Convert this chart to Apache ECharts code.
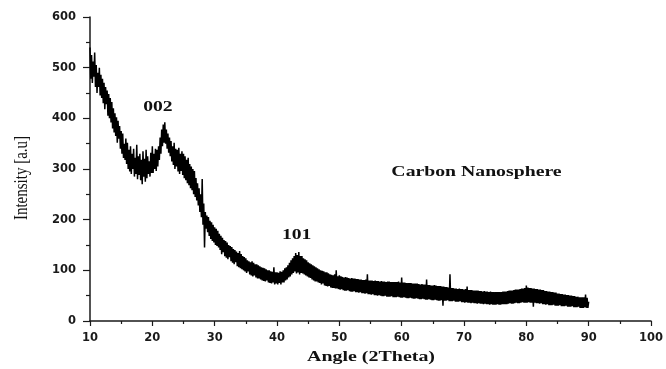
<!DOCTYPE html>
<html><head><meta charset="utf-8">
<script src="https://cdn.jsdelivr.net/npm/echarts@6/dist/echarts.min.js"></script>
<style>html,body{margin:0;padding:0;background:#fff}#c{width:666px;height:369px}</style>
</head><body><div id="c"></div>
<script>
// Sampling grid of the scan (degrees 2θ)
const angleStart = 10;
const angleStep = 0.125;
// Intensity readings (a.u.), 8 per degree
const intensity10to30 = [
 540,478,525,470,512,482,530,462, 505,450,490,462,500,445,486,440,
 478,430,470,418,462,428,455,405, 448,400,440,392,432,380,420,372,
 410,365,402,352,395,360,385,340, 375,330,370,322,350,318,360,310,
 352,300,338,295,345,290,330,300, 340,285,322,290,348,280,325,288,
 330,278,318,270,335,285,320,275, 338,282,325,290,315,285,332,292,
 345,292,330,300,340,296,338,305, 345,318,362,330,378,345,388,352,
 392,350,378,340,370,332,362,325, 355,315,345,308,352,300,340,305,
 338,295,342,290,330,296,335,288, 330,282,325,278,318,272,322,268,
 310,262,305,258,300,250,296,245, 282,238,272,228,262,215,250,205,
 280,190,232,145,215,182,208,175, 205,168,198,162,195,158,190,155
];
const intensity30to50 = [
 185,150,182,148,178,145,172,140, 168,132,164,136,160,128,158,125,
 155,122,150,126,148,118,146,115, 142,112,140,116,137,108,134,106,
 138,104,132,102,128,100,126,98, 124,95,120,98,118,92,116,90,
 118,88,115,90,112,86,112,84, 110,84,108,82,106,80,105,79,
 104,78,102,80,100,76,100,75, 98,74,97,76,106,72,96,74,
 96,72,95,75,98,72,97,76, 100,76,104,80,106,82,110,86,
 115,88,120,92,124,95,128,98, 134,94,130,96,136,92,128,95,
 128,94,124,92,122,90,120,88, 116,86,114,85,112,82,110,80,
 108,78,106,78,104,76,102,75, 100,72,99,74,98,70,96,69,
 96,68,94,69,92,66,91,65, 90,65,92,64,100,64,88,63
];
const intensity50to70 = [
 90,62,88,63,87,61,86,60, 87,60,86,61,85,59,84,58,
 85,58,84,59,84,57,83,57, 83,56,82,57,82,55,81,55,
 81,54,82,55,92,53,80,53, 80,52,80,53,79,51,80,51,
 79,50,79,51,78,50,79,49, 78,49,78,50,77,48,78,48,
 78,48,77,49,77,47,77,47, 77,47,77,48,78,47,76,46,
 86,46,76,47,76,46,75,45, 75,45,75,46,75,45,74,44,
 74,44,74,45,74,44,73,43, 72,43,73,44,72,43,72,42,
 82,42,71,43,71,42,70,41, 70,41,71,42,70,41,69,40,
 69,40,69,41,68,30,68,40, 67,40,67,41,66,39,92,39,
 65,39,65,40,64,38,64,38, 63,38,64,39,63,37,63,37
];
const intensity70to90 = [
 62,36,63,37,68,36,61,36, 61,35,61,36,60,35,60,35,
 60,34,60,35,59,34,59,34, 58,33,59,34,58,33,58,33,
 57,32,58,33,57,32,57,32, 57,32,57,33,57,32,57,32,
 57,33,58,33,58,33,58,33, 59,34,60,35,60,34,60,34,
 61,35,62,36,62,35,62,35, 63,36,64,37,64,36,65,36,
 70,36,66,37,65,36,65,36, 64,28,64,36,63,35,63,35,
 62,34,62,35,61,33,61,33, 59,32,59,33,58,31,58,31,
 57,31,57,32,56,30,56,30, 54,30,54,31,53,29,53,29,
 52,29,52,30,51,28,51,28, 50,28,50,29,49,27,49,27,
 48,27,48,28,47,26,47,26, 47,26,47,27,52,26,46,26,
 38
];
// Axis ticks
const xTicks = {min: 10, max: 100, interval: 10};
const yTicks = {min: 0, max: 600, interval: 100};
// Annotations: [text, angle, intensity]
const peakLabels = [['002', 20.9, 422], ['101', 43.15, 168]];
const sampleLabel = ['Carbon Nanosphere', 72, 294];
const xTitle = 'Angle (2Theta)';
const yTitle = 'Intensity [a.u]';

const intensities = intensity10to30.concat(intensity30to50, intensity50to70, intensity70to90);
const seriesData = intensities.map((v, i) => [angleStart + i * angleStep, v]);

const chart = echarts.init(document.getElementById('c'), null, {renderer: 'canvas'});
const axisCommon = {
  axisLine: {show: true, onZero: false, lineStyle: {color: '#1a1a1a', width: 1.5}},
  splitLine: {show: false},
  axisLabel: {color: '#1a1a1a', fontFamily: 'DejaVu Sans', fontWeight: 'bold', fontSize: 11.5},
  minorTick: {show: true, splitNumber: 2, lineStyle: {color: '#1a1a1a', width: 1.2}}
};
chart.setOption({
  animation: false,
  backgroundColor: '#fff',
  grid: {left: 90, right: 14, top: 17, bottom: 48},
  xAxis: Object.assign({}, axisCommon, {
    type: 'value', min: xTicks.min, max: xTicks.max, interval: xTicks.interval,
    axisTick: {show: true, inside: false, length: 5, lineStyle: {color: '#1a1a1a', width: 1.2}},
    minorTick: Object.assign({}, axisCommon.minorTick, {length: 3}),
    axisLabel: Object.assign({}, axisCommon.axisLabel, {margin: 11})
  }),
  yAxis: Object.assign({}, axisCommon, {
    type: 'value', min: yTicks.min, max: yTicks.max, interval: yTicks.interval,
    axisTick: {show: true, inside: false, length: 7, lineStyle: {color: '#1a1a1a', width: 1.2}},
    minorTick: Object.assign({}, axisCommon.minorTick, {length: 4}),
    axisLabel: Object.assign({}, axisCommon.axisLabel, {margin: 14})
  }),
  series: [{
    type: 'line', data: seriesData, showSymbol: false, sampling: null,
    lineStyle: {color: '#000', width: 1.5}, z: 2
  }]
});

function txt(text, x, y, font, sx, sy, rot) {
  return {type: 'text', x: x, y: y, scaleX: sx, scaleY: sy, rotation: rot || 0, silent: true,
    style: {text: text, x: 0, y: 0, font: font, fill: '#111', align: 'center', verticalAlign: 'middle'}};
}
const g = [];
peakLabels.forEach(p => {
  const pt = chart.convertToPixel({gridIndex: 0}, [p[1], p[2]]);
  g.push(txt(p[0], pt[0], pt[1], 'bold 14px "Liberation Serif"', 1.4, 1));
});
const sp = chart.convertToPixel({gridIndex: 0}, [sampleLabel[1], sampleLabel[2]]);
g.push(txt(sampleLabel[0], sp[0], sp[1], 'bold 14px "Liberation Serif"', 1.41, 1));
g.push(txt(xTitle, 371, 357, 'bold 15px "Liberation Serif"', 1.33, 1));
g.push(txt(yTitle, 22, 178, '15px "Liberation Serif"', 1, 1.25, Math.PI / 2));
chart.setOption({graphic: g});
</script>
</body></html>
